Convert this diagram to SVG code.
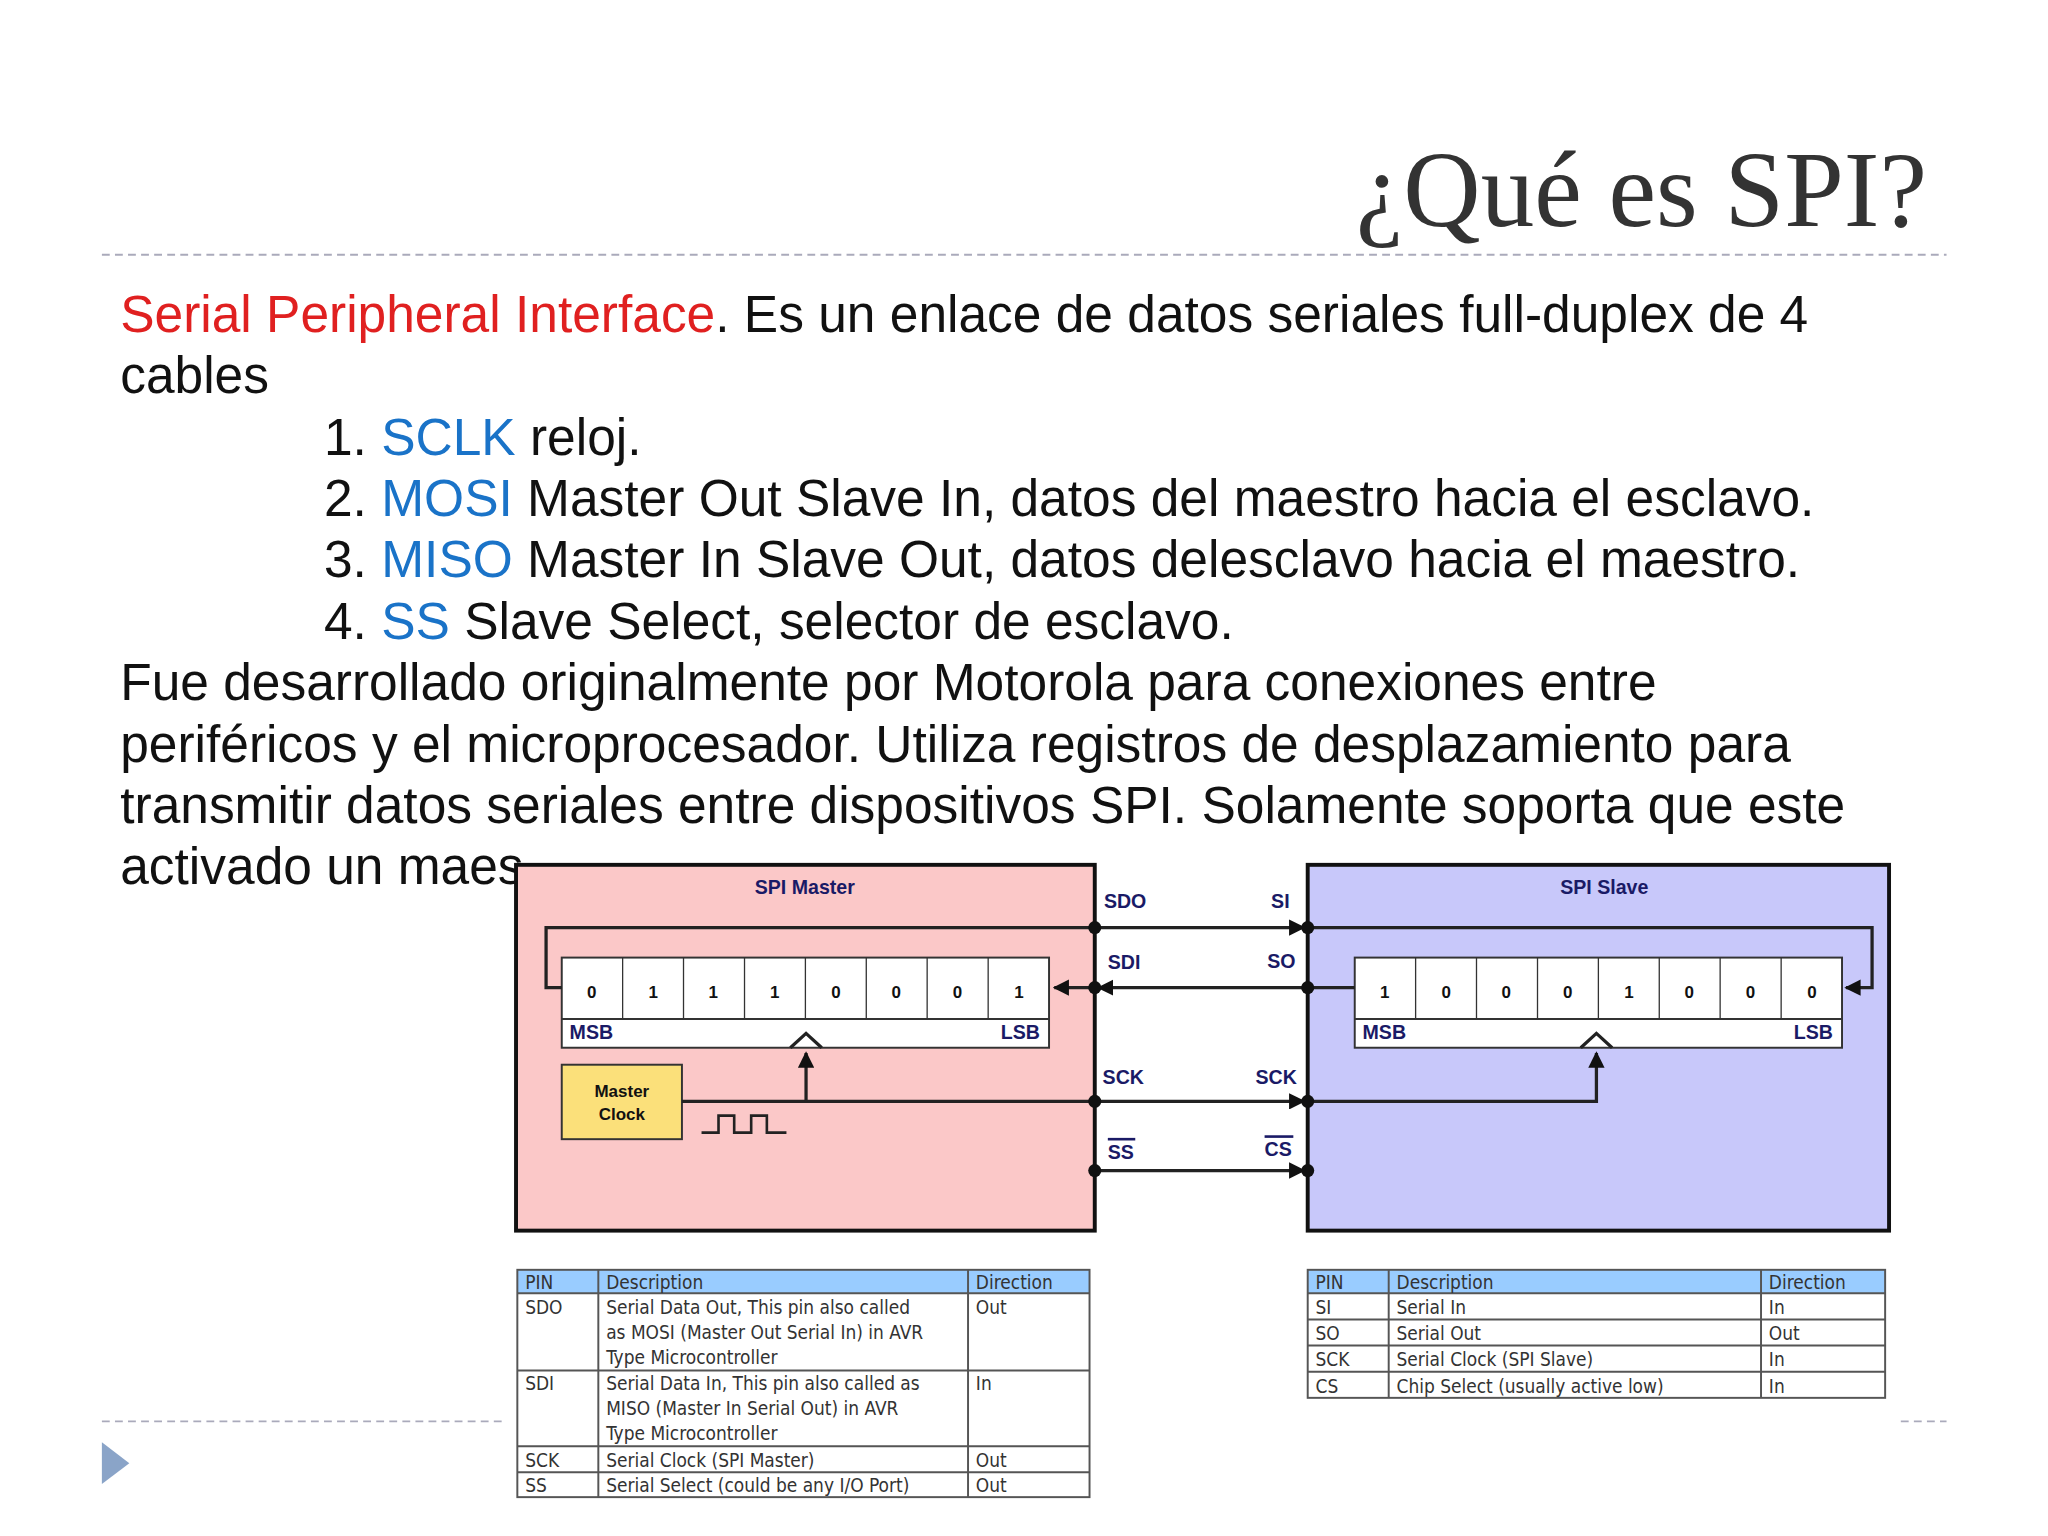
<svg xmlns="http://www.w3.org/2000/svg" width="2048" height="1536" viewBox="0 0 2048 1536">
<style>
.t{font-family:"Liberation Sans",Arial,sans-serif;font-size:39.4px;fill:#111}
.b{fill:#1a73c8}
.d{font-family:"Liberation Sans",Arial,sans-serif;font-weight:bold;font-size:15px;fill:#1a1a66}
.c{font-family:"Liberation Sans",Arial,sans-serif;font-weight:bold;font-size:13px;fill:#111;text-anchor:middle}
.w{stroke:#222;stroke-width:2.5;fill:none}
.tb{font-family:"DejaVu Sans Condensed","DejaVu Sans",sans-serif;font-size:14.5px;fill:#333;font-stretch:condensed}
.g{stroke:#555;stroke-width:1.5;fill:none}
</style>
<defs>
<marker id="ar" viewBox="0 0 10 10" refX="9" refY="5" markerWidth="5" markerHeight="5" orient="auto"><path d="M0,0L10,5L0,10z" fill="#111"/></marker>
</defs>
<rect width="2048" height="1536" fill="#fff"/>
<g transform="scale(1.3064)">
<g id="title">
<text x="1475" y="173" text-anchor="end" font-family="Liberation Serif,serif" font-size="82" fill="#333">¿Qué es SPI?</text>
<line x1="78" y1="195" x2="1490" y2="195" stroke="#aab" stroke-width="1.5" stroke-dasharray="6,4"/>
</g>
<g id="body">
<text class="t" x="92" y="254"><tspan fill="#e02020">Serial Peripheral Interface</tspan>.  Es un enlace de datos seriales full-duplex de 4</text>
<text class="t" x="92" y="301">cables</text>
<text class="t" x="248" y="348">1. <tspan class="b">SCLK</tspan> reloj.</text>
<text class="t" x="248" y="395">2. <tspan class="b">MOSI</tspan> Master Out Slave In, datos del maestro hacia el esclavo.</text>
<text class="t" x="248" y="442">3. <tspan class="b">MISO</tspan> Master In Slave Out, datos delesclavo hacia el maestro.</text>
<text class="t" x="248" y="489">4. <tspan class="b">SS</tspan> Slave Select, selector de esclavo.</text>
<text class="t" x="92" y="536">Fue desarrollado originalmente por Motorola para conexiones entre</text>
<text class="t" x="92" y="583">periféricos y el microprocesador. Utiliza registros de desplazamiento para</text>
<text class="t" x="92" y="630">transmitir datos seriales entre dispositivos SPI. Solamente soporta que este</text>
<text class="t" x="92" y="677">activado un maes</text>
</g>
<g id="footer">
<line x1="78" y1="1088" x2="385" y2="1088" stroke="#aab" stroke-width="1.5" stroke-dasharray="6,4"/>
<line x1="1455" y1="1088" x2="1490" y2="1088" stroke="#aab" stroke-width="1.5" stroke-dasharray="6,4"/>
<path d="M78,1104L99,1120L78,1136z" fill="#8aa4c8"/>
</g>
<g id="master">
<rect x="395" y="662" width="443" height="280" fill="#fbc8c8" stroke="#111" stroke-width="3"/>
<text class="d" x="616" y="684" text-anchor="middle">SPI Master</text>
<rect x="430" y="733" width="373" height="69" fill="#fff" stroke="#333" stroke-width="1.5"/>
<line x1="430" y1="780" x2="803" y2="780" stroke="#333" stroke-width="1.5"/>
<g stroke="#333" stroke-width="1">
<line x1="476.6" y1="733" x2="476.6" y2="780"/><line x1="523.2" y1="733" x2="523.2" y2="780"/><line x1="569.9" y1="733" x2="569.9" y2="780"/><line x1="616.5" y1="733" x2="616.5" y2="780"/><line x1="663.1" y1="733" x2="663.1" y2="780"/><line x1="709.7" y1="733" x2="709.7" y2="780"/><line x1="756.4" y1="733" x2="756.4" y2="780"/></g>
<g class="c"><text x="453" y="764">0</text><text x="500" y="764">1</text><text x="546" y="764">1</text><text x="593" y="764">1</text><text x="640" y="764">0</text><text x="686" y="764">0</text><text x="733" y="764">0</text><text x="780" y="764">1</text></g>
<text class="d" x="436" y="795">MSB</text><text class="d" x="796" y="795" text-anchor="end">LSB</text>
<path d="M605,802L617,791L629,802" class="w"/>
<rect x="430" y="815" width="92" height="57" fill="#fbe07a" stroke="#333" stroke-width="1.5"/>
<text class="c" x="476" y="840">Master</text><text class="c" x="476" y="857">Clock</text>
<path d="M537,867H550V854H562V867H575V854H587V867H602" stroke="#222" stroke-width="2" fill="none"/>
</g>
<g id="slave">
<rect x="1001" y="662" width="445" height="280" fill="#c8c8fa" stroke="#111" stroke-width="3"/>
<text class="d" x="1228" y="684" text-anchor="middle">SPI Slave</text>
<rect x="1037" y="733" width="373" height="69" fill="#fff" stroke="#333" stroke-width="1.5"/>
<line x1="1037" y1="780" x2="1410" y2="780" stroke="#333" stroke-width="1.5"/>
<g stroke="#333" stroke-width="1">
<line x1="1083.6" y1="733" x2="1083.6" y2="780"/><line x1="1130.2" y1="733" x2="1130.2" y2="780"/><line x1="1176.9" y1="733" x2="1176.9" y2="780"/><line x1="1223.5" y1="733" x2="1223.5" y2="780"/><line x1="1270.1" y1="733" x2="1270.1" y2="780"/><line x1="1316.7" y1="733" x2="1316.7" y2="780"/><line x1="1363.4" y1="733" x2="1363.4" y2="780"/></g>
<g class="c"><text x="1060" y="764">1</text><text x="1107" y="764">0</text><text x="1153" y="764">0</text><text x="1200" y="764">0</text><text x="1247" y="764">1</text><text x="1293" y="764">0</text><text x="1340" y="764">0</text><text x="1387" y="764">0</text></g>
<text class="d" x="1043" y="795">MSB</text><text class="d" x="1403" y="795" text-anchor="end">LSB</text>
<path d="M1210,802L1222,791L1234,802" class="w"/>
</g>
<g id="connectors">
<path class="w" d="M838,710H418V756H430"/>
<path class="w" d="M838,710H998" marker-end="url(#ar)"/>
<path class="w" d="M1001,710H1433V756H1413" marker-end="url(#ar)"/>
<path class="w" d="M1037,756H1001"/>
<path class="w" d="M1001,756H841" marker-end="url(#ar)"/>
<path class="w" d="M838,756H807" marker-end="url(#ar)"/>
<path class="w" d="M522,843H838"/>
<path class="w" d="M617,843V806" marker-end="url(#ar)"/>
<path class="w" d="M838,843H998" marker-end="url(#ar)"/>
<path class="w" d="M1001,843H1222V806" marker-end="url(#ar)"/>
<path class="w" d="M838,896H998" marker-end="url(#ar)"/>
<g fill="#111"><circle cx="838" cy="710" r="5"/><circle cx="1001" cy="710" r="5"/><circle cx="838" cy="756" r="5"/><circle cx="1001" cy="756" r="5"/><circle cx="838" cy="843" r="5"/><circle cx="1001" cy="843" r="5"/><circle cx="838" cy="896" r="5"/><circle cx="1001" cy="896" r="5"/></g>
<g class="d"><text x="845" y="695">SDO</text><text x="973" y="695">SI</text><text x="848" y="742">SDI</text><text x="970" y="741">SO</text><text x="844" y="830">SCK</text><text x="961" y="830">SCK</text><text x="848" y="887">SS</text><text x="968" y="885">CS</text></g>
<line x1="848" y1="872" x2="869" y2="872" stroke="#1a1a66" stroke-width="2"/>
<line x1="968" y1="870" x2="990" y2="870" stroke="#1a1a66" stroke-width="2"/>
</g>
<g id="table-master">
<rect x="396" y="972" width="438" height="18" fill="#99ccff"/>
<rect x="396" y="972" width="438" height="174" class="g"/>
<path class="g" d="M458,972V1146M741,972V1146M396,990H834M396,1049H834M396,1107H834M396,1127H834"/>
<g class="tb">
<text x="402" y="987">PIN</text><text x="464" y="987">Description</text><text x="747" y="987">Direction</text>
<text x="402" y="1006">SDO</text><text x="464" y="1006">Serial Data Out, This pin also called</text><text x="747" y="1006">Out</text>
<text x="464" y="1025">as MOSI (Master Out Serial In) in AVR</text><text x="464" y="1044">Type Microcontroller</text>
<text x="402" y="1064">SDI</text><text x="464" y="1064">Serial Data In, This pin also called as</text><text x="747" y="1064">In</text>
<text x="464" y="1083">MISO (Master In Serial Out) in AVR</text><text x="464" y="1102">Type Microcontroller</text>
<text x="402" y="1123">SCK</text><text x="464" y="1123">Serial Clock (SPI Master)</text><text x="747" y="1123">Out</text>
<text x="402" y="1142">SS</text><text x="464" y="1142">Serial Select (could be any I/O Port)</text><text x="747" y="1142">Out</text>
</g>
</g>
<g id="table-slave">
<rect x="1001" y="972" width="442" height="18" fill="#99ccff"/>
<rect x="1001" y="972" width="442" height="98" class="g"/>
<path class="g" d="M1063,972V1070M1348,972V1070M1001,990H1443M1001,1010H1443M1001,1030H1443M1001,1050H1443"/>
<g class="tb">
<text x="1007" y="987">PIN</text><text x="1069" y="987">Description</text><text x="1354" y="987">Direction</text>
<text x="1007" y="1006">SI</text><text x="1069" y="1006">Serial In</text><text x="1354" y="1006">In</text>
<text x="1007" y="1026">SO</text><text x="1069" y="1026">Serial Out</text><text x="1354" y="1026">Out</text>
<text x="1007" y="1046">SCK</text><text x="1069" y="1046">Serial Clock (SPI Slave)</text><text x="1354" y="1046">In</text>
<text x="1007" y="1066">CS</text><text x="1069" y="1066">Chip Select (usually active low)</text><text x="1354" y="1066">In</text>
</g>
</g>
</g>
</svg>
